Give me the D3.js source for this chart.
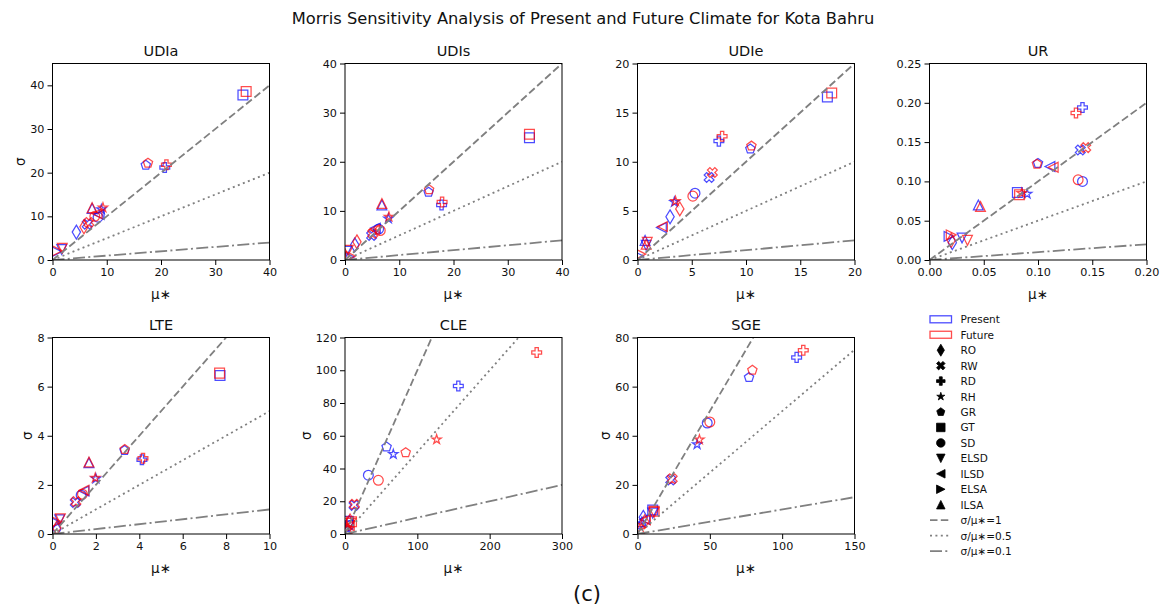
<!DOCTYPE html>
<html>
<head>
<meta charset="utf-8">
<script src="https://cdn.jsdelivr.net/npm/d3@7"></script>
<style>
  html, body { margin: 0; padding: 0; background: #fff; }
  svg { display: block; font-family: "DejaVu Sans", sans-serif; }
</style>
</head>
<body>
<svg id="chart" width="1162" height="610"></svg>
<script>
// Morris screening results (mu*, sigma) for each input parameter, present vs future climate
const params = ["RO", "RW", "RD", "RH", "GR", "GT", "SD", "ELSD", "ILSD", "ELSA", "ILSA"];
const shapes = ["thinDiamond", "xFilled", "plusFilled", "star", "pentagon", "square", "circle", "triDown", "triLeft", "triRight", "triUp"];
const panels = ["UDIa", "UDIs", "UDIe", "UR", "LTE", "CLE", "SGE"];

// UDIa
const udiaPresentMu    = [4.4, 6.4, 20.7, 9.0, 17.2, 35.1, 8.4, 1.7, 8.6, 0.8, 7.3];
const udiaPresentSigma = [6.4, 8.2, 21.2, 11.6, 21.7, 37.8, 9.8, 2.4, 10.4, 1.9, 11.8];
const udiaFutureMu     = [5.8, 6.7, 21.0, 9.3, 17.6, 35.7, 7.8, 1.8, 8.2, 0.9, 7.3];
const udiaFutureSigma  = [7.6, 8.6, 21.8, 12.0, 22.2, 38.6, 10.0, 2.7, 10.6, 2.1, 12.0];
// UDIs
const udisPresentMu    = [1.8, 4.9, 17.8, 8.0, 15.4, 34.0, 6.2, 0.3, 5.6, 0.8, 6.8];
const udisPresentSigma = [3.1, 5.0, 11.2, 8.4, 13.8, 24.9, 6.3, 1.8, 6.5, 0.6, 11.2];
const udisFutureMu     = [2.2, 5.1, 17.9, 8.1, 15.5, 34.0, 6.5, 0.6, 5.4, 1.0, 6.8];
const udisFutureSigma  = [3.7, 5.4, 11.8, 8.8, 14.3, 25.6, 6.0, 2.0, 6.2, 0.8, 11.5];
// UDIe
const udiePresentMu    = [3.0, 6.6, 7.5, 3.4, 10.4, 17.5, 5.3, 0.8, 2.2, 0.1, 0.7];
const udiePresentSigma = [4.4, 8.4, 12.1, 5.9, 11.3, 16.6, 6.8, 1.5, 3.3, 0.4, 2.0];
const udieFutureMu     = [3.9, 6.9, 7.8, 3.5, 10.5, 17.9, 5.1, 0.9, 2.3, 0.3, 0.8];
const udieFutureSigma  = [5.2, 8.9, 12.6, 6.0, 11.6, 17.0, 6.5, 1.8, 3.4, 0.6, 1.6];
// UR
const urPresentMu      = [0.021, 0.139, 0.141, 0.090, 0.100, 0.081, 0.141, 0.030, 0.111, 0.018, 0.045];
const urPresentSigma   = [0.022, 0.140, 0.194, 0.084, 0.123, 0.086, 0.100, 0.028, 0.119, 0.030, 0.070];
const urFutureMu       = [0.020, 0.144, 0.135, 0.085, 0.099, 0.083, 0.137, 0.035, 0.114, 0.020, 0.047];
const urFutureSigma    = [0.025, 0.143, 0.187, 0.085, 0.122, 0.083, 0.102, 0.025, 0.118, 0.032, 0.068];
// LTE
const ltePresentMu     = [0.20, 1.05, 4.12, 2.00, 3.32, 7.72, 1.32, 0.33, 1.45, 0.18, 1.68];
const ltePresentSigma  = [0.20, 1.28, 3.02, 2.25, 3.40, 6.45, 1.58, 0.58, 1.75, 0.46, 2.90];
const lteFutureMu      = [0.20, 1.08, 4.17, 1.97, 3.33, 7.70, 1.38, 0.36, 1.45, 0.20, 1.68];
const lteFutureSigma   = [0.25, 1.32, 3.08, 2.28, 3.44, 6.55, 1.62, 0.62, 1.78, 0.50, 2.93];
// CLE
const clePresentMu     = [6.0, 12.5, 156.7, 66.8, 57.5, 4.5, 32.3, 5.0, 4.0, 3.0, 2.0];
const clePresentSigma  = [7.0, 17.5, 90.4, 48.7, 53.2, 7.8, 35.9, 5.0, 6.0, 3.0, 2.0];
const cleFutureMu      = [7.0, 13.0, 265.0, 126.7, 83.9, 9.0, 46.1, 8.0, 6.0, 5.0, 3.0];
const cleFutureSigma   = [8.0, 18.2, 110.8, 57.7, 49.7, 7.5, 32.8, 6.5, 5.0, 4.0, 3.0];
// SGE
const sgePresentMu     = [4.0, 23.0, 110.0, 41.2, 77.1, 10.5, 48.2, 10.5, 5.0, 2.0, 3.0];
const sgePresentSigma  = [6.8, 22.0, 71.9, 36.5, 63.7, 9.8, 45.2, 8.5, 6.0, 3.5, 5.0];
const sgeFutureMu      = [5.0, 24.0, 114.6, 42.8, 79.4, 11.5, 50.0, 11.5, 5.5, 2.5, 1.5];
const sgeFutureSigma   = [5.0, 22.5, 74.8, 38.4, 66.7, 9.3, 45.6, 8.8, 5.8, 2.8, 2.0];

// axis ticks per panel
const xTicks = [[0, 10, 20, 30, 40], [0, 10, 20, 30, 40], [0, 5, 10, 15, 20], [0, 0.05, 0.10, 0.15, 0.20],
                [0, 2, 4, 6, 8, 10], [0, 100, 200, 300], [0, 50, 100, 150]];
const yTicks = [[0, 10, 20, 30, 40], [0, 10, 20, 30, 40], [0, 5, 10, 15, 20], [0, 0.05, 0.10, 0.15, 0.20, 0.25],
                [0, 2, 4, 6, 8], [0, 20, 40, 60, 80, 100, 120], [0, 20, 40, 60, 80]];
const xMax = [40, 40, 20, 0.20, 10, 300, 150];
const yMax = [45, 40, 20, 0.25, 8, 120, 80];

// reference ratios sigma/mu*
const ratios = [1, 0.5, 0.1];
const ratioLabels = ["σ/μ∗=1", "σ/μ∗=0.5", "σ/μ∗=0.1"];
const scenarios = ["Present", "Future"];

const presentMu = [udiaPresentMu, udisPresentMu, udiePresentMu, urPresentMu, ltePresentMu, clePresentMu, sgePresentMu];
const presentSigma = [udiaPresentSigma, udisPresentSigma, udiePresentSigma, urPresentSigma, ltePresentSigma, clePresentSigma, sgePresentSigma];
const futureMu = [udiaFutureMu, udisFutureMu, udieFutureMu, urFutureMu, lteFutureMu, cleFutureMu, sgeFutureMu];
const futureSigma = [udiaFutureSigma, udisFutureSigma, udieFutureSigma, urFutureSigma, lteFutureSigma, cleFutureSigma, sgeFutureSigma];

// ---- styling ----
const scenarioColor = ["#0000ff", "#ff0000"];
const markerAlpha = 0.7;
const refDash = ["7.5,3.3", "2,3.4", "12,3.3,2,3.3"];
const refColor = "#808080";
const ms = 9.8;
const withYLabel = [true, false, false, false, true, true, true];

const svg = d3.select("#chart");

// marker path builders (centred at 0,0; svg y down)
function poly(pts) { return "M" + pts.map(p => p[0].toFixed(2) + "," + p[1].toFixed(2)).join("L") + "Z"; }
function markerPath(shape, s) {
  const h = s / 2;
  switch (shape) {
    case "square": return poly([[-h, -h], [h, -h], [h, h], [-h, h]]);
    case "circle": return `M${h},0A${h},${h} 0 1,1 ${-h},0A${h},${h} 0 1,1 ${h},0Z`;
    case "triUp": return poly([[0, -h], [h, h], [-h, h]]);
    case "triDown": return poly([[0, h], [-h, -h], [h, -h]]);
    case "triLeft": return poly([[-h, 0], [h, -h], [h, h]]);
    case "triRight": return poly([[h, 0], [-h, h], [-h, -h]]);
    case "thinDiamond": {
      const dh = s * 0.707, dw = s * 0.707 * 0.6;
      return poly([[0, -dh], [dw, 0], [0, dh], [-dw, 0]]);
    }
    case "star": {
      const pts = [];
      for (let k = 0; k < 10; k++) {
        const r = k % 2 === 0 ? h : h * 0.381966;
        const a = -Math.PI / 2 + k * Math.PI / 5;
        pts.push([r * Math.cos(a), r * Math.sin(a)]);
      }
      return poly(pts);
    }
    case "pentagon": {
      const pts = [];
      for (let k = 0; k < 5; k++) {
        const a = -Math.PI / 2 + k * 2 * Math.PI / 5;
        pts.push([h * Math.cos(a), h * Math.sin(a)]);
      }
      return poly(pts);
    }
    case "plusFilled": {
      const u = s / 6;
      return poly([[-1, -3], [1, -3], [1, -1], [3, -1], [3, 1], [1, 1], [1, 3], [-1, 3], [-1, 1], [-3, 1], [-3, -1], [-1, -1]]
        .map(p => [p[0] * u, p[1] * u]));
    }
    case "xFilled": {
      return poly([[0.25, 0], [0.5, 0.25], [0.25, 0.5], [0, 0.25], [-0.25, 0.5], [-0.5, 0.25], [-0.25, 0], [-0.5, -0.25],
        [-0.25, -0.5], [0, -0.25], [0.25, -0.5], [0.5, -0.25]].map(p => [p[0] * s, p[1] * s]));
    }
  }
}

// ---- figure title ----
svg.append("text").attr("x", 583).attr("y", 18).attr("text-anchor", "middle")
  .attr("dominant-baseline", "central").attr("font-size", 16.3).attr("fill", "#111")
  .text("Morris Sensitivity Analysis of Present and Future Climate for Kota Bahru");

svg.append("text").attr("x", 587).attr("y", 594).attr("text-anchor", "middle")
  .attr("dominant-baseline", "central").attr("font-size", 21).attr("fill", "#111").text("(c)");

// ---- panels ----
const colLeft = [52.5, 345, 637.5, 929.5];
const rowTop = [63.5, 337.5];
const axW = 217, axH = 196.5;

panels.forEach((name, i) => {
  const col = i % 4, row = Math.floor(i / 4);
  const left = colLeft[col], top = rowTop[row];
  const x = d3.scaleLinear().domain([0, xMax[i]]).range([left, left + axW]);
  const y = d3.scaleLinear().domain([0, yMax[i]]).range([top + axH, top]);
  const g = svg.append("g");
  const clipId = "clip" + i;
  svg.append("clipPath").attr("id", clipId).append("rect")
    .attr("x", left).attr("y", top).attr("width", axW).attr("height", axH);

  const plot = g.append("g").attr("clip-path", `url(#${clipId})`);

  // scatter: present then future
  const sets = [[presentMu[i], presentSigma[i]], [futureMu[i], futureSigma[i]]];
  sets.forEach((set, si) => {
    plot.append("g").selectAll("path").data(params).join("path")
      .attr("d", (p, k) => markerPath(shapes[k], ms))
      .attr("transform", (p, k) => `translate(${x(set[0][k])},${y(set[1][k])})`)
      .attr("fill", "none")
      .attr("stroke", scenarioColor[si])
      .attr("stroke-opacity", markerAlpha)
      .attr("stroke-width", 1.25);
  });

  // reference lines sigma = r * mu*
  ratios.forEach((r, ri) => {
    plot.append("line")
      .attr("x1", x(0)).attr("y1", y(0))
      .attr("x2", x(xMax[i])).attr("y2", y(r * xMax[i]))
      .attr("stroke", refColor).attr("stroke-width", 1.8)
      .attr("stroke-dasharray", refDash[ri]);
  });

  // axes
  const fmt = name === "UR" ? d3.format(".2f") : d3.format("d");
  const xa = g.append("g").attr("transform", `translate(0,${top + axH})`)
    .call(d3.axisBottom(x).tickValues(xTicks[i]).tickFormat(fmt).tickSize(5).tickPadding(3));
  const ya = g.append("g").attr("transform", `translate(${left},0)`)
    .call(d3.axisLeft(y).tickValues(yTicks[i]).tickFormat(fmt).tickSize(5).tickPadding(3));
  [xa, ya].forEach(a => {
    a.select(".domain").remove();
    a.selectAll("line").attr("stroke", "#000").attr("stroke-width", 1);
    a.selectAll("text").attr("font-size", 11.2).attr("fill", "#111").attr("font-family", "DejaVu Sans");
  });

  g.append("rect").attr("x", left).attr("y", top).attr("width", axW).attr("height", axH)
    .attr("fill", "none").attr("stroke", "#000").attr("stroke-width", 1);

  // titles and labels
  g.append("text").attr("x", left + axW / 2).attr("y", top - 13).attr("text-anchor", "middle")
    .attr("dominant-baseline", "central").attr("font-size", 14.5).attr("fill", "#111").text(name);
  g.append("text").attr("x", left + axW / 2).attr("y", top + axH + 34).attr("text-anchor", "middle")
    .attr("dominant-baseline", "central").attr("font-size", 13.5).attr("fill", "#111").text("μ∗");
  if (withYLabel[i]) {
    const ticksW = d3.max(ya.selectAll("text").nodes(), n => n.getBBox().width);
    const lx = left - 5 - 3 - ticksW - 10;
    g.append("text").attr("transform", `translate(${lx},${top + axH / 2}) rotate(-90)`)
      .attr("text-anchor", "middle").attr("dominant-baseline", "central")
      .attr("font-size", 13.5).attr("fill", "#111").text("σ");
  }
});

// ---- legend ----
const lg = svg.append("g");
const lx0 = 930, ly0 = 319.3, ldy = 15.45, ltx = 960.5;
let rowIdx = 0;
scenarios.forEach((s, si) => {
  const yy = ly0 + rowIdx * ldy;
  lg.append("rect").attr("x", lx0).attr("y", yy - 3.5).attr("width", 21.5).attr("height", 7)
    .attr("fill", "#fff").attr("stroke", scenarioColor[si]).attr("stroke-opacity", markerAlpha).attr("stroke-width", 1.3);
  lg.append("text").attr("x", ltx).attr("y", yy).attr("dominant-baseline", "central")
    .attr("font-size", 10.5).attr("fill", "#111").text(s);
  rowIdx++;
});
params.forEach((p, k) => {
  const yy = ly0 + rowIdx * ldy;
  lg.append("path").attr("d", markerPath(shapes[k], 8.5)).attr("transform", `translate(${lx0 + 10.8},${yy})`)
    .attr("fill", "#000").attr("stroke", "#000").attr("stroke-width", 0.8);
  lg.append("text").attr("x", ltx).attr("y", yy).attr("dominant-baseline", "central")
    .attr("font-size", 10.5).attr("fill", "#111").text(p);
  rowIdx++;
});
ratios.forEach((r, ri) => {
  const yy = ly0 + rowIdx * ldy;
  lg.append("line").attr("x1", lx0).attr("x2", lx0 + 20).attr("y1", yy).attr("y2", yy)
    .attr("stroke", refColor).attr("stroke-width", 1.8).attr("stroke-dasharray", refDash[ri]);
  lg.append("text").attr("x", ltx).attr("y", yy).attr("dominant-baseline", "central")
    .attr("font-size", 10.5).attr("fill", "#111").text(ratioLabels[ri]);
  rowIdx++;
});
</script>
</body>
</html>
